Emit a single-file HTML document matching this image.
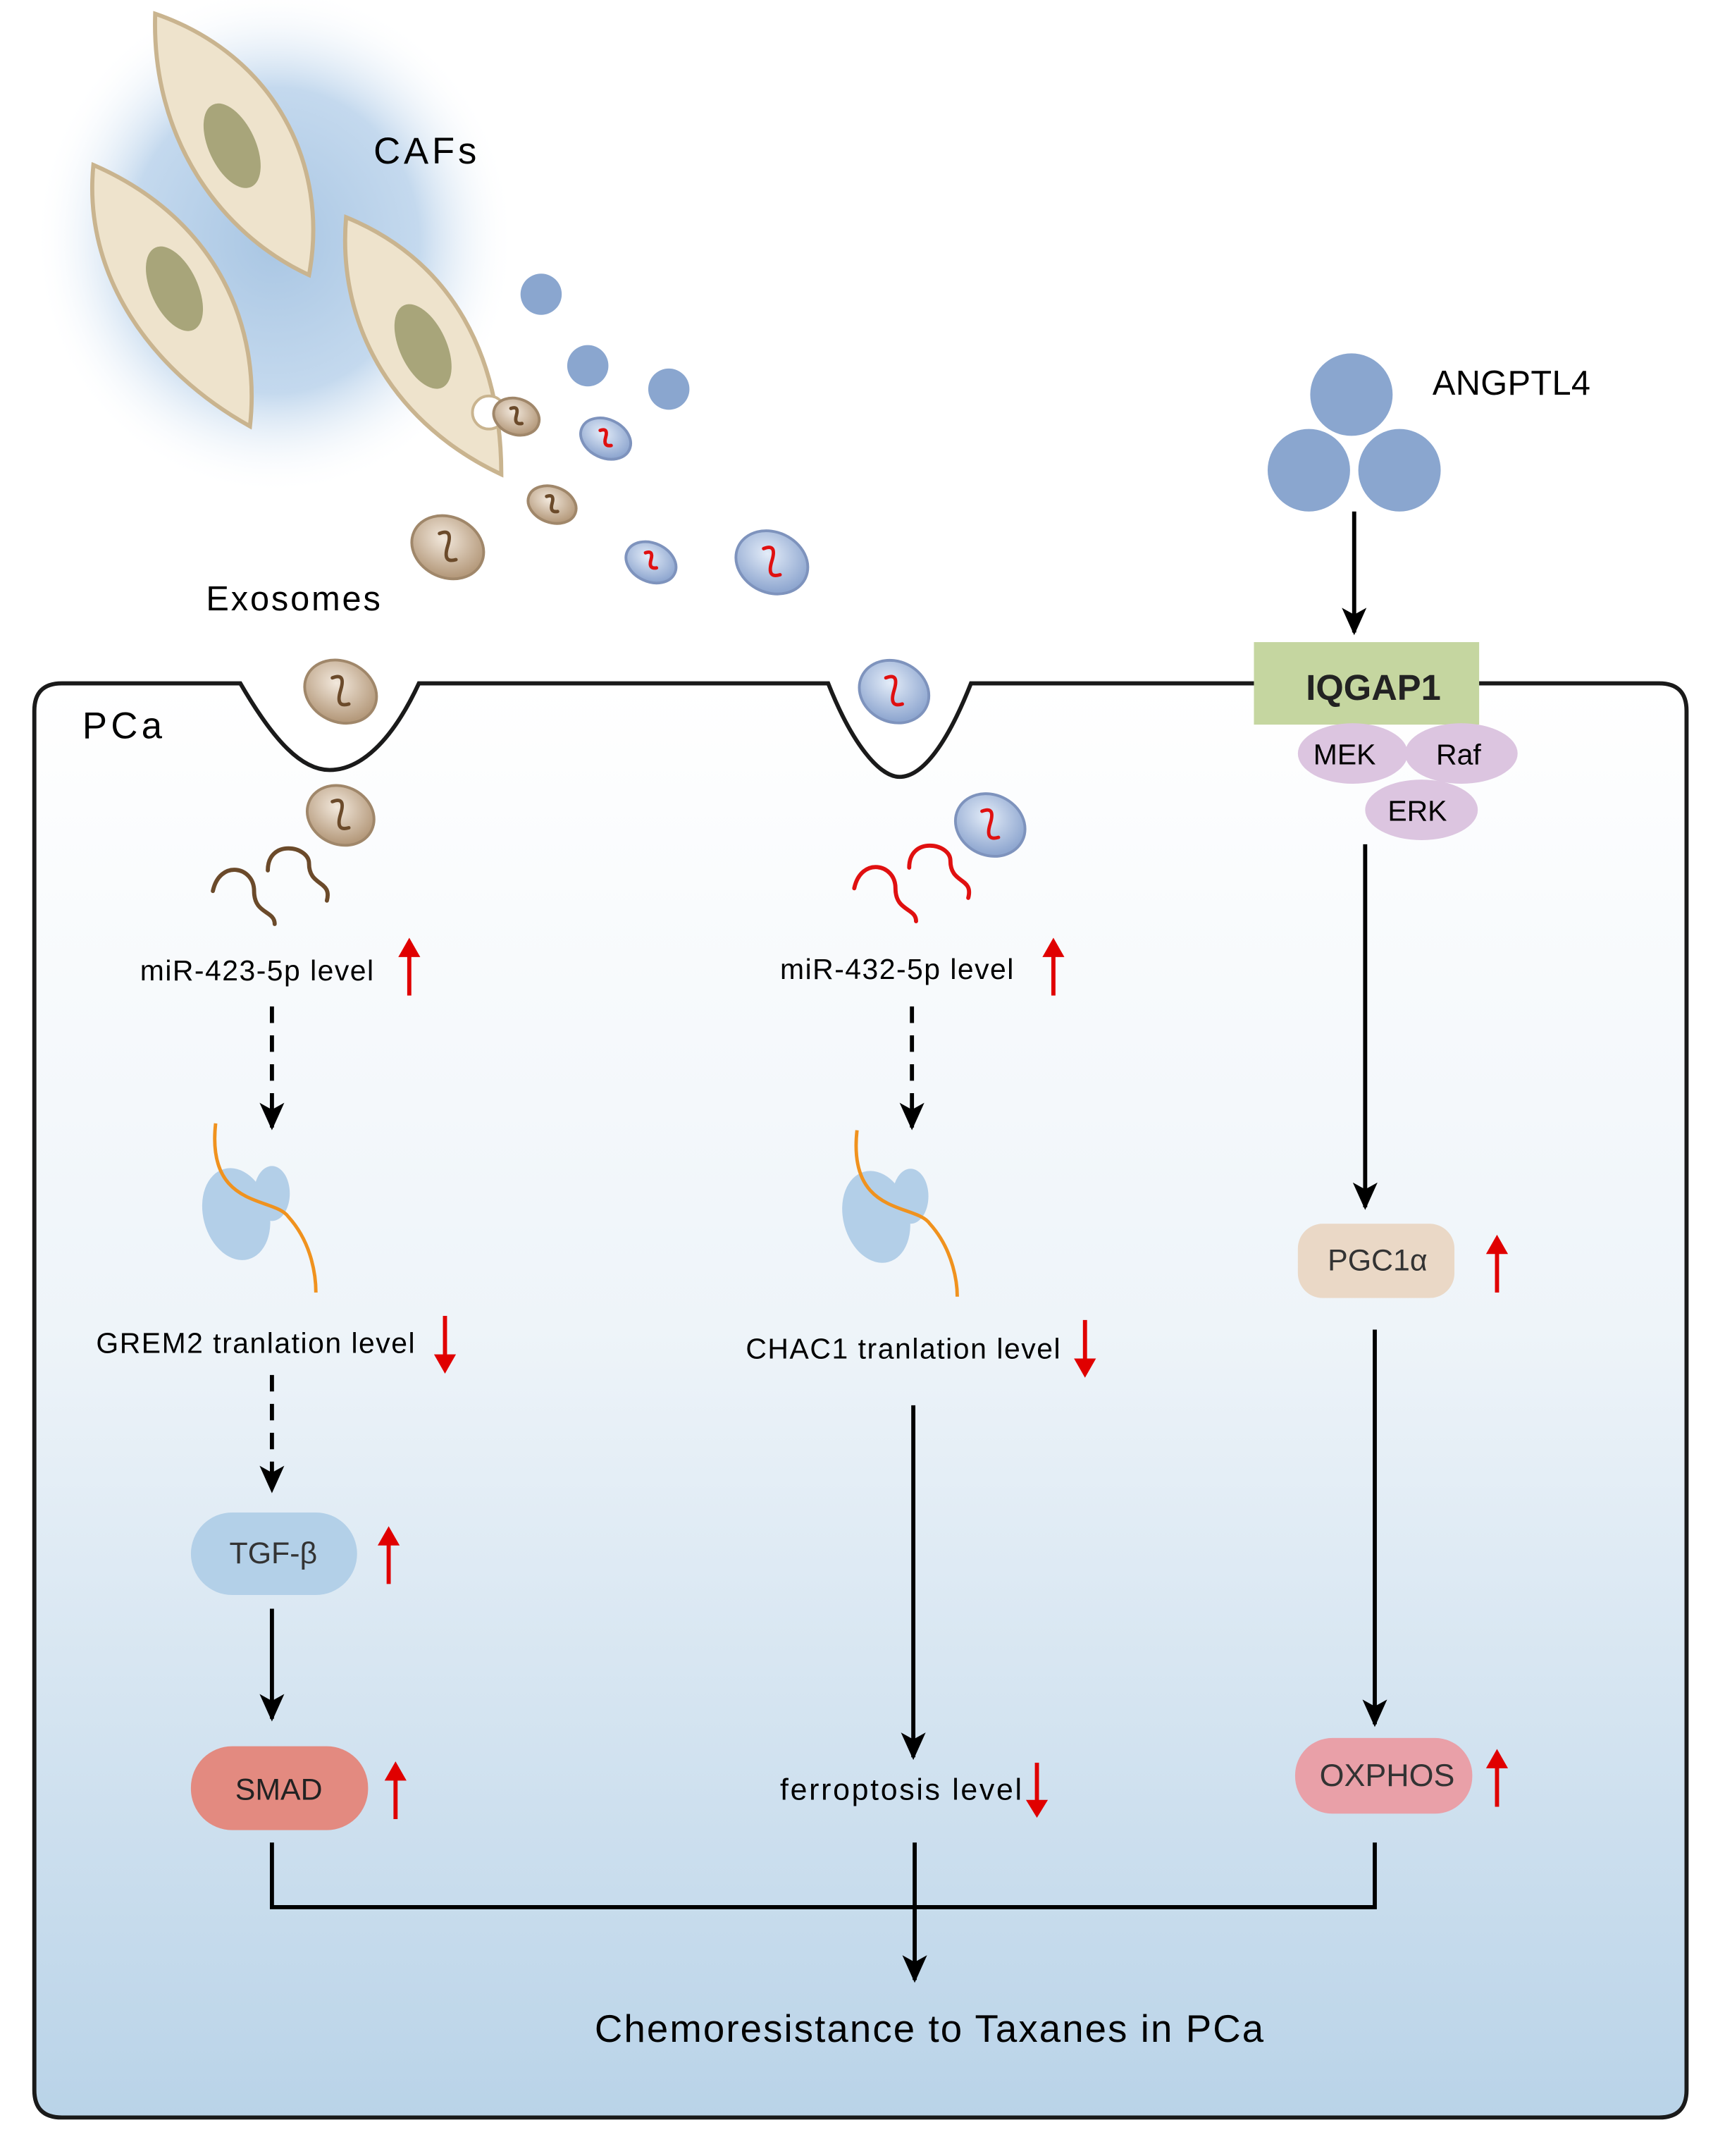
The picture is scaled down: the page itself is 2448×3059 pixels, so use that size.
<!DOCTYPE html>
<html><head><meta charset="utf-8"><style>html,body{margin:0;padding:0;background:#fff}svg{display:block}text{font-family:"Liberation Sans",Arial,sans-serif}</style></head><body>
<svg width="2448" height="3059" viewBox="0 0 1256 1568" preserveAspectRatio="none" xmlns="http://www.w3.org/2000/svg">
<defs>
<linearGradient id="cellg" x1="0" y1="0" x2="0" y2="1"><stop offset="0" stop-color="#ffffff"/><stop offset="0.45" stop-color="#eef4f9"/><stop offset="1" stop-color="#b9d3e8"/></linearGradient>
<radialGradient id="halo" cx="0.5" cy="0.5" r="0.5"><stop offset="0" stop-color="#a9c6e3"/><stop offset="0.6" stop-color="#c4d9ee"/><stop offset="1" stop-color="#ffffff" stop-opacity="0"/></radialGradient>
<radialGradient id="exb" cx="0.4" cy="0.4" r="0.6"><stop offset="0" stop-color="#e3ecf8"/><stop offset="1" stop-color="#8fa7d0"/></radialGradient>
<radialGradient id="exr" cx="0.4" cy="0.4" r="0.6"><stop offset="0" stop-color="#f2e8dc"/><stop offset="1" stop-color="#b59a7c"/></radialGradient>
<marker id="ah" markerWidth="22" markerHeight="22" refX="18" refY="11" orient="auto" markerUnits="userSpaceOnUse"><path d="M0,2 L20,11 L0,20 L5,11 z" fill="#000"/></marker>
</defs>
<rect width="1256" height="1568" fill="#fff"/>
<ellipse cx="200" cy="175" rx="175" ry="185" fill="url(#halo)"/>
<g fill="#eee3cc" stroke="#c9b48f" stroke-width="3">
<path d="M113,10 C200,40 240,120 225,200 C160,170 110,100 113,10z"/>
<path d="M68,120 C160,160 190,240 182,310 C110,270 60,200 68,120z"/>
<path d="M252,158 C330,190 365,260 365,345 C290,310 245,240 252,158z"/>
</g>
<g fill="#a8a57a"><ellipse cx="169" cy="106" rx="17" ry="33" transform="rotate(-25 169 106)"/><ellipse cx="127" cy="210" rx="17" ry="33" transform="rotate(-25 127 210)"/><ellipse cx="308" cy="252" rx="17" ry="33" transform="rotate(-25 308 252)"/></g>
<circle cx="356" cy="300" r="12" fill="#fff" stroke="#c9b48f" stroke-width="2"/>
<text x="272" y="119" font-size="27" textLength="75">CAFs</text>
<g fill="#8aa6cf"><circle cx="394" cy="214" r="15"/><circle cx="428" cy="266" r="15"/><circle cx="487" cy="283" r="15"/></g>
<g stroke="#a0876a" stroke-width="2" fill="url(#exr)">
<ellipse cx="376" cy="303" rx="17" ry="13" transform="rotate(20 376 303)"/>
<ellipse cx="402" cy="367" rx="18" ry="13" transform="rotate(20 402 367)"/>
<ellipse cx="326" cy="398" rx="27" ry="22" transform="rotate(25 326 398)"/>
</g>
<g stroke="#7e93bd" stroke-width="2" fill="url(#exb)">
<ellipse cx="441" cy="319" rx="19" ry="14" transform="rotate(25 441 319)"/>
<ellipse cx="474" cy="409" rx="19" ry="14" transform="rotate(25 474 409)"/>
<ellipse cx="562" cy="409" rx="27" ry="22" transform="rotate(25 562 409)"/>
</g>
<g fill="none" stroke-width="2.5" stroke-linecap="round">
<g stroke="#6b4a2a"><path d="M372,297 q6,-2 4,5 t4,6"/><path d="M398,361 q6,-2 4,5 t4,6"/><path d="M320,388 q10,-4 6,9 t6,10"/></g>
<g stroke="#e01010"><path d="M437,313 q6,-2 4,5 t4,6"/><path d="M470,402 q6,-2 4,5 t4,6"/><path d="M556,399 q10,-4 6,9 t6,10"/></g>
</g>
<text x="150" y="444" font-size="25" textLength="127">Exosomes</text>
<path d="M45,497 L175,497 C200,540 220,560 240,560 C262,560 285,540 305,497 L603,497 C620,540 640,565 655,565 C672,565 690,540 707,497 L1208,497 Q1228,497 1228,517 L1228,1520 Q1228,1540 1208,1540 L45,1540 Q25,1540 25,1520 L25,517 Q25,497 45,497z" fill="url(#cellg)" stroke="#1a1a1a" stroke-width="3"/>
<g stroke="#a0876a" stroke-width="2" fill="url(#exr)"><ellipse cx="248" cy="503" rx="27" ry="22" transform="rotate(25 248 503)"/><ellipse cx="248" cy="593" rx="25" ry="21" transform="rotate(25 248 593)"/></g>
<g stroke="#7e93bd" stroke-width="2" fill="url(#exb)"><ellipse cx="651" cy="503" rx="26" ry="22" transform="rotate(25 651 503)"/><ellipse cx="721" cy="600" rx="26" ry="22" transform="rotate(25 721 600)"/></g>
<g fill="none" stroke-width="2.5" stroke-linecap="round"><path stroke="#6b4a2a" d="M242,493 q10,-4 6,9 t6,10 M242,583 q10,-4 6,9 t6,10"/><path stroke="#e01010" d="M645,493 q10,-4 6,9 t6,10 M715,590 q10,-4 6,9 t6,10"/></g>
<text x="60" y="537" font-size="27" textLength="58">PCa</text>
<g fill="none" stroke-width="3" stroke-linecap="round">
<path stroke="#6b4a2a" d="M155,648 C160,625 185,630 185,648 C185,665 200,662 200,672 M195,633 C195,610 225,615 225,628 C225,645 242,640 238,655"/>
<path stroke="#e01010" d="M622,646 C627,623 652,628 652,646 C652,663 667,660 667,670 M662,631 C662,608 692,613 692,626 C692,643 709,638 705,653"/>
</g>
<text x="102" y="713" font-size="21" textLength="170">miR-423-5p level</text>
<text x="568" y="712" font-size="21" textLength="170">miR-432-5p level</text>
<g stroke="#e00000" stroke-width="3" fill="#e00000">
<line x1="298" y1="724" x2="298" y2="690"/><path d="M290,696 L298,682 L306,696z" stroke="none"/>
<line x1="767" y1="724" x2="767" y2="690"/><path d="M759,696 L767,682 L775,696z" stroke="none"/>
<line x1="324" y1="957" x2="324" y2="991"/><path d="M316,985 L324,999 L332,985z" stroke="none"/>
<line x1="790" y1="960" x2="790" y2="994"/><path d="M782,988 L790,1002 L798,988z" stroke="none"/>
<line x1="283" y1="1152" x2="283" y2="1118"/><path d="M275,1124 L283,1110 L291,1124z" stroke="none"/>
<line x1="288" y1="1323" x2="288" y2="1289"/><path d="M280,1295 L288,1281 L296,1295z" stroke="none"/>
<line x1="755" y1="1282" x2="755" y2="1315"/><path d="M747,1309 L755,1322 L763,1309z" stroke="none"/>
<line x1="1090" y1="940" x2="1090" y2="906"/><path d="M1082,912 L1090,898 L1098,912z" stroke="none"/>
<line x1="1090" y1="1314" x2="1090" y2="1280"/><path d="M1082,1286 L1090,1272 L1098,1286z" stroke="none"/>
</g>
<g stroke="#000" stroke-width="3" fill="none">
<line x1="198" y1="732" x2="198" y2="820" stroke-dasharray="12,9" marker-end="url(#ah)"/>
<line x1="664" y1="732" x2="664" y2="820" stroke-dasharray="12,9" marker-end="url(#ah)"/>
<line x1="198" y1="1000" x2="198" y2="1084" stroke-dasharray="12,9" marker-end="url(#ah)"/>
<line x1="198" y1="1170" x2="198" y2="1250" marker-end="url(#ah)"/>
<line x1="665" y1="1022" x2="665" y2="1278" marker-end="url(#ah)"/>
<line x1="994" y1="614" x2="994" y2="878" marker-end="url(#ah)"/>
<line x1="1001" y1="967" x2="1001" y2="1254" marker-end="url(#ah)"/>
<line x1="986" y1="372" x2="986" y2="460" marker-end="url(#ah)"/>
<path d="M198,1340 L198,1387 L1001,1387 L1001,1340"/>
<line x1="666" y1="1340" x2="666" y2="1440" marker-end="url(#ah)"/>
</g>
<g fill="#b3cfe8"><ellipse cx="172" cy="883" rx="24" ry="34" transform="rotate(-15 172 883)"/><ellipse cx="198" cy="868" rx="13" ry="20"/><ellipse cx="638" cy="885" rx="24" ry="34" transform="rotate(-15 638 885)"/><ellipse cx="663" cy="870" rx="13" ry="20"/></g>
<g fill="none" stroke="#f0921e" stroke-width="2.5"><path d="M157,817 C150,880 200,870 210,885 C228,905 230,930 230,940"/><path d="M624,822 C617,885 667,875 677,890 C695,910 697,935 697,943"/></g>
<text x="70" y="984" font-size="21" textLength="232">GREM2 tranlation level</text>
<text x="543" y="988" font-size="21" textLength="229">CHAC1 tranlation level</text>
<rect x="139" y="1100" width="121" height="60" rx="30" fill="#b3d0e8"/>
<text x="199" y="1137" font-size="22" text-anchor="middle" fill="#333">TGF-β</text>
<rect x="139" y="1270" width="129" height="61" rx="30" fill="#e38a80"/>
<text x="203" y="1309" font-size="22" text-anchor="middle" fill="#222">SMAD</text>
<text x="568" y="1309" font-size="22" textLength="176">ferroptosis level</text>
<g fill="#8aa6cf"><circle cx="984" cy="287" r="30"/><circle cx="953" cy="342" r="30"/><circle cx="1019" cy="342" r="30"/></g>
<text x="1043" y="287" font-size="25" textLength="115">ANGPTL4</text>
<rect x="913" y="467" width="164" height="60" fill="#c5d6a0"/>
<text x="1000" y="509" font-size="26" font-weight="bold" text-anchor="middle" fill="#222">IQGAP1</text>
<g fill="#dcc5e0"><ellipse cx="985" cy="548" rx="40" ry="22"/><ellipse cx="1064" cy="548" rx="41" ry="22"/><ellipse cx="1035" cy="589" rx="41" ry="22"/></g>
<text x="979" y="556" font-size="21" text-anchor="middle">MEK</text>
<text x="1062" y="556" font-size="21" text-anchor="middle">Raf</text>
<text x="1032" y="597" font-size="21" text-anchor="middle">ERK</text>
<rect x="945" y="890" width="114" height="54" rx="18" fill="#ead8c6"/>
<text x="1003" y="924" font-size="22" text-anchor="middle" fill="#333">PGC1α</text>
<rect x="943" y="1264" width="129" height="55" rx="27" fill="#e9a0a8"/>
<text x="1010" y="1299" font-size="23" text-anchor="middle" fill="#333">OXPHOS</text>
<text x="433" y="1485" font-size="28" textLength="487">Chemoresistance to Taxanes in PCa</text>
</svg>
</body></html>
